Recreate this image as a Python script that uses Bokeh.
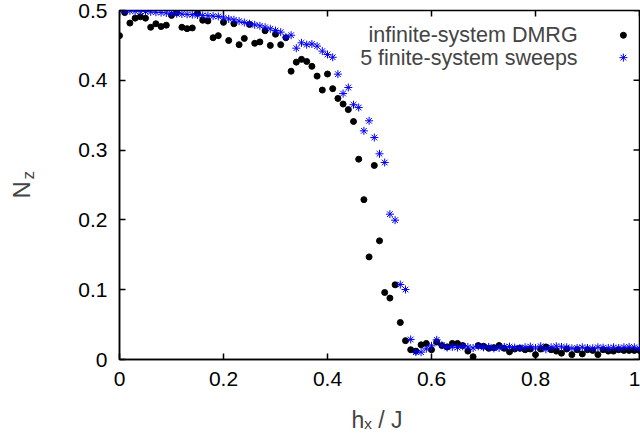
import math
from bokeh.plotting import figure
from bokeh.models import Range1d, FixedTicker, Label
from bokeh.embed import file_html
from bokeh.resources import INLINE

# transverse field h_x / J (shared grid of both series)
h_values = [0.00, 0.01, 0.02, 0.03, 0.04, 0.05, 0.06, 0.07, 0.08, 0.09,
            0.10, 0.11, 0.12, 0.13, 0.14, 0.15, 0.16, 0.17, 0.18, 0.19,
            0.20, 0.21, 0.22, 0.23, 0.24, 0.25, 0.26, 0.27, 0.28, 0.29,
            0.30, 0.31, 0.32, 0.33, 0.34, 0.35, 0.36, 0.37, 0.38, 0.39,
            0.40, 0.41, 0.42, 0.43, 0.44, 0.45, 0.46, 0.47, 0.48, 0.49,
            0.50, 0.51, 0.52, 0.53, 0.54, 0.55, 0.56, 0.57, 0.58, 0.59,
            0.60, 0.61, 0.62, 0.63, 0.64, 0.65, 0.66, 0.67, 0.68, 0.69,
            0.70, 0.71, 0.72, 0.73, 0.74, 0.75, 0.76, 0.77, 0.78, 0.79,
            0.80, 0.81, 0.82, 0.83, 0.84, 0.85, 0.86, 0.87, 0.88, 0.89,
            0.90, 0.91, 0.92, 0.93, 0.94, 0.95, 0.96, 0.97, 0.98, 0.99,
            1.00]

# infinite-system DMRG
nz_infinite = [0.464, 0.497, 0.482, 0.489, 0.491, 0.489, 0.476, 0.481, 0.477, 0.479,
               0.493, 0.497, 0.476, 0.474, 0.475, 0.496, 0.486, 0.485, 0.461, 0.464,
               0.483, 0.457, 0.481, 0.451, 0.460, 0.480, 0.453, 0.455, 0.471, 0.450,
               0.466, 0.451, 0.461, 0.413, 0.426, 0.430, 0.427, 0.420, 0.406, 0.386,
               0.409, 0.388, 0.374, 0.366, 0.358, 0.341, 0.287, 0.229, 0.147, 0.278,
               0.170, 0.096, 0.088, 0.107, 0.053, 0.027, 0.014, 0.012, 0.021, 0.023,
               0.014, 0.025, 0.020, 0.018, 0.023, 0.023, 0.020, 0.012, 0.004, 0.020,
               0.019, 0.016, 0.017, 0.020, 0.016, 0.011, 0.015, 0.016, 0.014, 0.015,
               0.007, 0.015, 0.018, 0.014, 0.012, 0.009, 0.015, 0.007, 0.014, 0.008,
               0.014, 0.013, 0.007, 0.014, 0.012, 0.012, 0.014, 0.013, 0.013, 0.013,
               0.013]

# 5 finite-system sweeps
nz_sweeps = [0.500, 0.4995, 0.4995, 0.499, 0.499, 0.4985, 0.498, 0.4975, 0.497, 0.4965,
             0.496, 0.4955, 0.495, 0.4945, 0.494, 0.4935, 0.493, 0.4925, 0.492, 0.4915,
             0.4895, 0.488, 0.4867, 0.4847, 0.4828, 0.481, 0.4795, 0.478, 0.476, 0.4738,
             0.4713, 0.469, 0.4618, 0.4646, 0.446, 0.4537, 0.451, 0.452, 0.449, 0.4418,
             0.437, 0.433, 0.4088, 0.381, 0.3897, 0.365, 0.361, 0.3276, 0.342, 0.318,
             0.2947, 0.2822, 0.2082, 0.1996, 0.1074, 0.1003, 0.0287, 0.0105, 0.0105, 0.0153,
             0.0196, 0.0282, 0.0205, 0.0172, 0.018, 0.0172, 0.019, 0.018, 0.0165, 0.019,
             0.0175, 0.018, 0.016, 0.0165, 0.018, 0.0185, 0.017, 0.0165, 0.0175, 0.0185,
             0.0165, 0.019, 0.0145, 0.0175, 0.019, 0.018, 0.0175, 0.016, 0.0165, 0.0175,
             0.0165, 0.016, 0.0175, 0.017, 0.0165, 0.0175, 0.0165, 0.0175, 0.018, 0.0175,
             0.016]

x_ticks = [0, 0.2, 0.4, 0.6, 0.8, 1]
x_tick_labels = ["0", "0.2", "0.4", "0.6", "0.8", "1"]
y_ticks = [0, 0.1, 0.2, 0.3, 0.4, 0.5]
y_tick_labels = ["0", "0.1", "0.2", "0.3", "0.4", "0.5"]

series_names = ["infinite-system DMRG", "5 finite-system sweeps"]
x_title = "h\u2093 / J"

FONT = "Liberation Sans"
X0, X1 = 0, 1
Y0, Y1 = 0, 0.5

p = figure(width=640, height=435, output_backend="svg", toolbar_location=None,
           x_range=Range1d(X0, X1), y_range=Range1d(Y0, Y1),
           min_border_left=119, min_border_right=1, min_border_top=10, min_border_bottom=76)
p.background_fill_color = "white"
p.border_fill_color = "white"
p.outline_line_color = "black"
p.outline_line_width = 1.5
p.grid.visible = False

def style_axis(ax, ticks, labels):
    ax.ticker = FixedTicker(ticks=ticks)
    ax.major_label_overrides = {t: l for t, l in zip(ticks, labels)}
    ax.minor_tick_line_color = None
    ax.major_tick_in = 6
    ax.major_tick_out = 0
    ax.major_tick_line_width = 1.5
    ax.major_tick_line_color = "black"
    ax.axis_line_color = "black"
    ax.axis_line_width = 1.5
    ax.major_label_text_font = FONT
    ax.major_label_text_color = "black"
    ax.major_label_text_font_size = "21px"
    ax.major_label_standoff = 12

style_axis(p.xaxis[0], x_ticks, x_tick_labels)
style_axis(p.yaxis[0], y_ticks, y_tick_labels)

# mirrored inward ticks on the top and right borders (outer half clipped by frame)
p.scatter(x_ticks, [Y1] * len(x_ticks), marker="dash", angle=math.pi / 2, size=12,
          line_color="black", line_width=1.5)
p.scatter([X1] * len(y_ticks), y_ticks, marker="dash", size=12,
          line_color="black", line_width=1.5)

p.scatter(h_values, nz_infinite, marker="circle", size=6, fill_color="black",
          line_color="black")
p.scatter(h_values, nz_sweeps, marker="asterisk", size=8, line_color="#0000ff",
          line_width=1)

# key (text right-aligned, symbol on the right, gnuplot style)
key_x_text = 0.881
key_x_sym = 0.969
key_y = [0.4645, 0.4325]
p.add_layout(Label(x=key_x_text, y=key_y[0], text=series_names[0], text_align="right",
                   text_baseline="middle", text_font=FONT, text_font_size="21.5px"))
p.add_layout(Label(x=key_x_text, y=key_y[1], text=series_names[1], text_align="right",
                   text_baseline="middle", text_font=FONT, text_font_size="21.5px"))
p.scatter([key_x_sym], [key_y[0]], marker="circle", size=6, fill_color="black", line_color="black")
p.scatter([key_x_sym], [key_y[1]], marker="asterisk", size=8, line_color="#0000ff", line_width=1)

# axis titles with subscripts, placed in canvas pixels (origin top-left) in side panels
def canvas_label(x, y, text, size, place, angle=0.0):
    p.add_layout(Label(x=x, y=y, x_units="canvas", y_units="canvas", text=text,
                       text_font=FONT, text_font_size=size, text_baseline="alphabetic",
                       text_align="left", angle=angle), place)

canvas_label(351, 419, x_title, "23px", "below")
canvas_label(21, 198, "N", "24px", "left", angle=math.pi / 2)
canvas_label(28, 179, "z", "17px", "left", angle=math.pi / 2)

open("out.html", "w").write(file_html(p, INLINE))
